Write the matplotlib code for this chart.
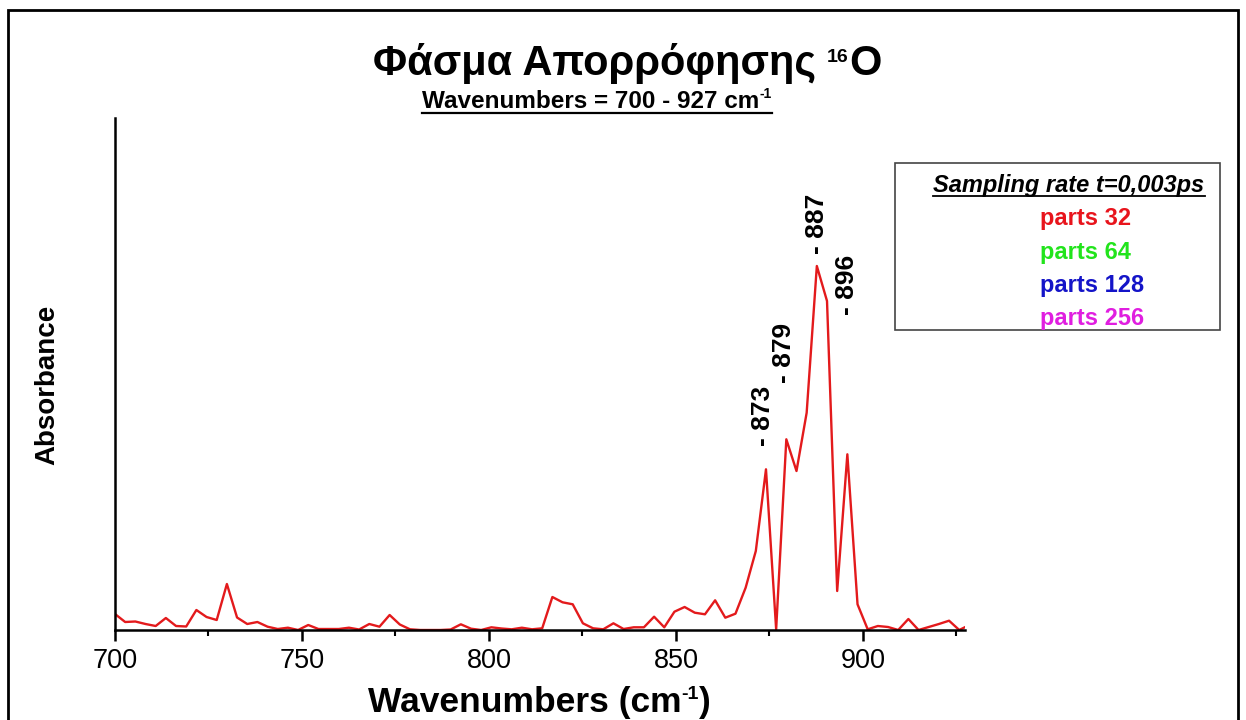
import matplotlib
matplotlib.use("Agg")
import matplotlib.pyplot as plt
from matplotlib.transforms import IdentityTransform
from matplotlib.patches import Rectangle
from matplotlib.lines import Line2D

# ---------------- data ----------------
wavenumbers = [
    700.00, 702.72, 705.44, 708.16, 710.88, 713.60, 716.32, 719.04, 721.76, 724.48,
    727.20, 729.92, 732.64, 735.36, 738.08, 740.80, 743.52, 746.24, 748.96, 751.68,
    754.40, 757.12, 759.84, 762.56, 765.28, 768.00, 770.72, 773.44, 776.16, 778.88,
    781.60, 784.32, 787.04, 789.76, 792.48, 795.20, 797.92, 800.64, 803.36, 806.08,
    808.80, 811.52, 814.24, 816.96, 819.68, 822.40, 825.12, 827.84, 830.56, 833.28,
    836.00, 838.72, 841.44, 844.16, 846.88, 849.60, 852.32, 855.04, 857.76, 860.48,
    863.20, 865.92, 868.64, 871.36, 874.08, 876.80, 879.52, 882.24, 884.96, 887.68,
    890.40, 893.12, 895.84, 898.56, 901.28, 904.00, 906.72, 909.44, 912.16, 914.88,
    917.60, 920.32, 923.04, 925.76, 928.48,
]
absorbance = [
    0.16, 0.08, 0.085, 0.06, 0.04, 0.12, 0.04, 0.035, 0.20, 0.13,
    0.10, 0.46, 0.125, 0.06, 0.08, 0.033, 0.01, 0.023, 0.00, 0.05,
    0.01, 0.01, 0.01, 0.023, 0.005, 0.06, 0.033, 0.15, 0.055, 0.007,
    0.00, 0.00, 0.00, 0.005, 0.057, 0.013, 0.00, 0.027, 0.015, 0.007,
    0.023, 0.007, 0.017, 0.33, 0.277, 0.257, 0.067, 0.017, 0.007, 0.067,
    0.01, 0.027, 0.027, 0.133, 0.027, 0.183, 0.23, 0.173, 0.157, 0.297,
    0.123, 0.163, 0.423, 0.79, 1.607, 0.007, 1.907, 1.59, 2.173, 3.64,
    3.29, 0.39, 1.757, 0.257, 0.007, 0.04, 0.03, 0.00, 0.11, 0.00,
    0.03, 0.06, 0.093, 0.00, 0.05,
]
peak_labels = ["- 873", "- 879", "- 887", "- 896"]
peak_label_x = [873.4, 879.0, 887.8, 895.8]
peak_label_y = [1.84, 2.47, 3.76, 3.15]

major_ticks = [700, 750, 800, 850, 900]
minor_ticks = [725, 775, 825, 875, 925]

legend_title = "Sampling rate t=0,003ps"
legend_entries = ["parts 32", "parts 64", "parts 128", "parts 256"]
legend_colors = ["#e8141c", "#22e41c", "#1414c8", "#e01ee0"]

# ---------------- figure ----------------
W, H = 1246, 720
fig = plt.figure(figsize=(W / 100, H / 100), dpi=100)
fig.patch.set_facecolor("white")

SANS = ["Liberation Sans", "DejaVu Sans"]

ax = fig.add_axes([115 / W, (H - 630) / H, 850 / W, 512 / H])
ax.plot(wavenumbers, absorbance, color="#e31a1c", lw=1.7)
ax.set_xlim(700, 927.3)
ax.set_ylim(0, 5.12)
for s in ("top", "right"):
    ax.spines[s].set_visible(False)
for s in ("left", "bottom"):
    ax.spines[s].set_linewidth(1.8)
    ax.spines[s].set_color("black")
ax.set_yticks([])
ax.set_xticks(major_ticks)
ax.set_xticks(minor_ticks, minor=True)
ax.tick_params(axis="x", which="major", direction="out", length=8, width=1.8, pad=5)
ax.tick_params(axis="x", which="minor", direction="out", length=4, width=1.5)
for lbl in ax.get_xticklabels():
    lbl.set_family(SANS)
    lbl.set_fontsize(19.5)

for txt, x, y in zip(peak_labels, peak_label_x, peak_label_y):
    ax.text(x, y, txt, rotation=90, ha="center", va="bottom", fontsize=19,
            fontweight="bold", family=SANS)

renderer = fig.canvas.get_renderer()


def rich(pieces, x, y, family, weight="bold", style="normal", color="black", ha="center"):
    objs = []
    total = 0.0
    for s, size, rise in pieces:
        t = fig.text(0, 0, s, fontsize=size, fontweight=weight, fontstyle=style,
                     family=family, color=color, transform=IdentityTransform(),
                     ha="left", va="baseline")
        w = t.get_window_extent(renderer).width
        objs.append((t, rise, w))
        total += w
    x0 = x - total / 2 if ha == "center" else x
    cx = x0
    for t, rise, w in objs:
        t.set_position((cx, y + rise))
        cx += w
    return x0, x0 + total


def underline(x0, x1, y_top, lw=1.6):
    fig.add_artist(Line2D([x0, x1], [H - y_top, H - y_top], transform=IdentityTransform(),
                          color="black", lw=lw))


# title
rich([("Φάσμα Απορρόφησης ", 30, 0), ("16", 14, 13), ("O", 30, 0)], 627, H - 75, SANS)
# subtitle
x0, x1 = rich([("Wavenumbers = 700 - 927 cm", 17.5, 0), ("-1", 10, 10)], 597, H - 108, SANS)
underline(x0, x1, 113)
# x label
rich([("Wavenumbers (cm", 25.5, 0), ("-1", 14, 13), (")", 25.5, 0)], 539, H - 712, SANS)
# y label
fig.text(47, H - 385, "Absorbance", rotation=90, ha="center", va="center",
         fontsize=20, fontweight="bold", family=SANS, transform=IdentityTransform())

# legend box
fig.add_artist(Rectangle((895, H - 330), 325, 167, transform=IdentityTransform(),
                         fill=False, edgecolor="#444444", lw=1.2))
x0, x1 = rich([(legend_title, 17, 0)], 1069, H - 192, SANS, style="italic")
underline(x0, x1, 196, lw=1.3)
for i, (lab, col) in enumerate(zip(legend_entries, legend_colors)):
    fig.text(1040, H - (225 + 33.5 * i), lab, fontsize=17, fontweight="bold",
             family=SANS, color=col, transform=IdentityTransform(),
             ha="left", va="baseline")

# outer frame
fig.add_artist(Rectangle((8, -10), 1230, H, transform=IdentityTransform(),
                         fill=False, edgecolor="black", lw=2))

fig.savefig("out.png", dpi=100)
